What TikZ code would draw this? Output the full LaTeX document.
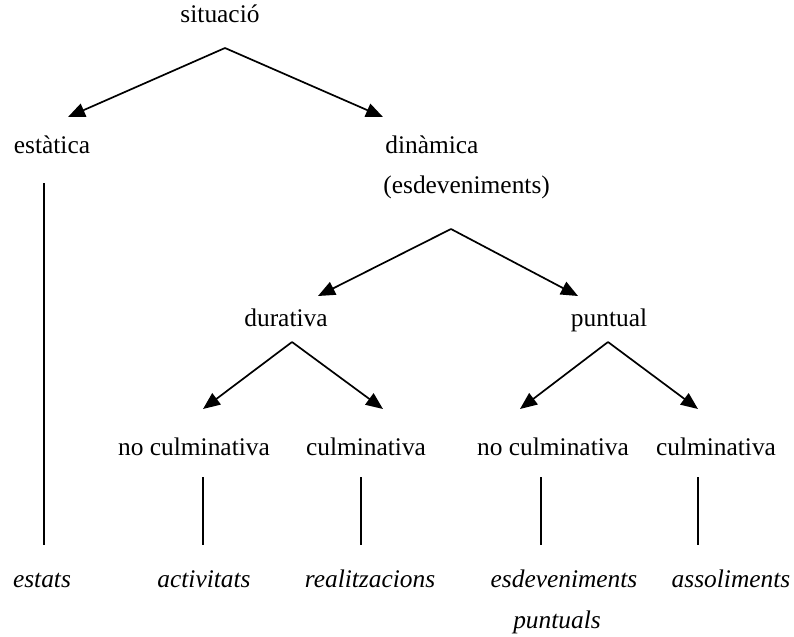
\documentclass[tikz,border=0pt]{standalone}
\usepackage{fontspec}
\setmainfont{Liberation Serif}
\usetikzlibrary{arrows.meta}
\begin{document}
\begin{tikzpicture}[x=0.5pt,y=-0.5pt,
  lbl/.style={inner sep=0pt,anchor=base,font=\fontsize{12.7}{15}\selectfont},
  leaf/.style={lbl,font=\fontsize{12.7}{15}\selectfont\itshape},
  branch/.style={line width=0.85pt,-{Triangle[length=8.5pt,width=7pt]}},
  stem/.style={line width=0.85pt}]
\useasboundingbox (0,0) rectangle (794,637);

% category labels
\node[lbl] (sit) at (220,23) {situació};
\node[lbl] (est) at (52,153) {estàtica};
\node[lbl,anchor=base west] (din) at (385,153) {dinàmica};
\node[lbl,anchor=base west] (esd) at (383,193) {(esdeveniments)};
\node[lbl] (dur) at (286,326) {durativa};
\node[lbl] (pun) at (609,326) {puntual};
\node[lbl] (dnc) at (194,455) {no culminativa};
\node[lbl] (dc)  at (366,455) {culminativa};
\node[lbl] (pnc) at (553,455) {no culminativa};
\node[lbl] (pc)  at (716,455) {culminativa};

% resulting classes
\node[leaf] (estats) at (42,587) {estats};
\node[leaf] (activ)  at (204,587) {activitats};
\node[leaf] (realit) at (370,587) {realitzacions};
\node[leaf] (esdev)  at (564,587) {esdeveniments};
\node[leaf] (assol)  at (731,587) {assoliments};
\node[leaf] (puntu)  at (557,628) {puntuals};

% branching points and arrow ends
\coordinate (a0) at (225,48);
\coordinate (t0l) at (68,117);
\coordinate (t0r) at (383,117);
\coordinate (a1) at (451,229);
\coordinate (t1l) at (318,296);
\coordinate (t1r) at (578,296);
\coordinate (a2) at (292,342);
\coordinate (t2l) at (203,409);
\coordinate (t2r) at (383,409);
\coordinate (a3) at (608,342);
\coordinate (t3l) at (520,409);
\coordinate (t3r) at (698,409);

\draw[branch] (a0) -- (t0l);
\draw[branch] (a0) -- (t0r);
\draw[branch] (a1) -- (t1l);
\draw[branch] (a1) -- (t1r);
\draw[branch] (a2) -- (t2l);
\draw[branch] (a2) -- (t2r);
\draw[branch] (a3) -- (t3l);
\draw[branch] (a3) -- (t3r);

% vertical stems down to the classes
\coordinate (s0a) at (44,183);  \coordinate (s0b) at (44,545);
\coordinate (s1a) at (203,477); \coordinate (s1b) at (203,545);
\coordinate (s2a) at (361,477); \coordinate (s2b) at (361,545);
\coordinate (s3a) at (541,477); \coordinate (s3b) at (541,545);
\coordinate (s4a) at (698,477); \coordinate (s4b) at (698,545);
\draw[stem] (s0a) -- (s0b);
\draw[stem] (s1a) -- (s1b);
\draw[stem] (s2a) -- (s2b);
\draw[stem] (s3a) -- (s3b);
\draw[stem] (s4a) -- (s4b);
\end{tikzpicture}
\end{document}
